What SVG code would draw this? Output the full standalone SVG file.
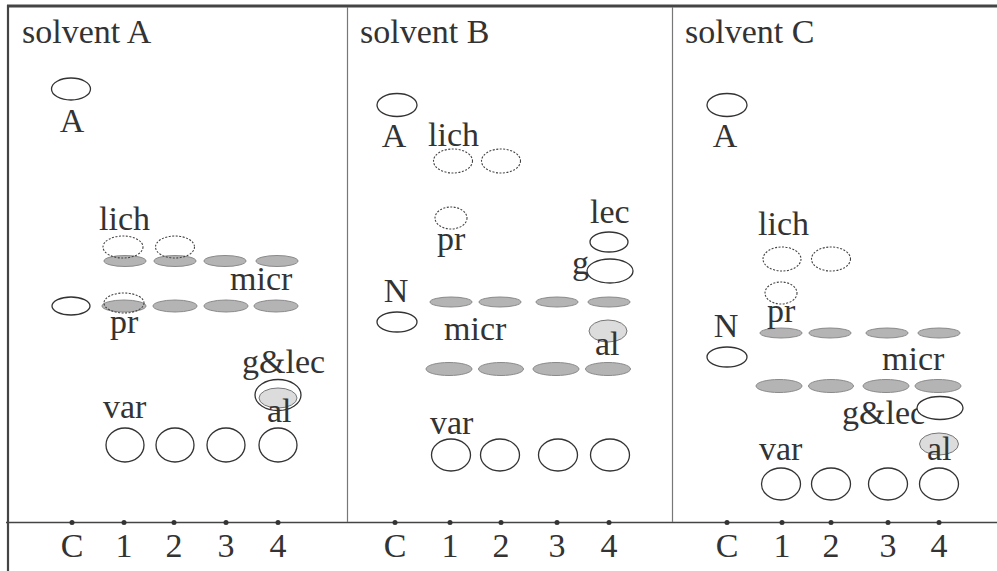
<svg xmlns="http://www.w3.org/2000/svg" width="997" height="571" viewBox="0 0 997 571">
<style>
text{font-family:"Liberation Serif","Times New Roman",serif;font-size:34px;fill:#333}
.m{text-anchor:middle}
.w{fill:#fff;stroke:#333;stroke-width:1.3}
.g{fill:#b4b4b4;stroke:#8a8a8a;stroke-width:1}
.l{fill:#dcdcdc;stroke:#777;stroke-width:1}
.d{fill:none;stroke:#444;stroke-width:1.1;stroke-dasharray:2 1.5}
.frame{stroke:#444;fill:none}
.dot{fill:#333}
</style>
<rect width="997" height="571" fill="#fff"/>
<g id="frame">
<line class="frame" x1="7" y1="6" x2="997" y2="6" stroke-width="3"/>
<line class="frame" x1="8" y1="5" x2="8" y2="571" stroke-width="2.2"/>
<line class="frame" x1="6" y1="522.5" x2="997" y2="522.5" stroke-width="1.6"/>
<line x1="347.5" y1="7" x2="347.5" y2="522" stroke="#777" stroke-width="1.2"/>
<line x1="672.5" y1="7" x2="672.5" y2="522" stroke="#777" stroke-width="1.2"/>
</g>
<g id="axis-ticks">
<circle class="dot" cx="72" cy="522.5" r="2.5"/><circle class="dot" cx="124" cy="522.5" r="2.5"/><circle class="dot" cx="174" cy="522.5" r="2.5"/><circle class="dot" cx="226" cy="522.5" r="2.5"/><circle class="dot" cx="278" cy="522.5" r="2.5"/>
<circle class="dot" cx="395" cy="522.5" r="2.5"/><circle class="dot" cx="450" cy="522.5" r="2.5"/><circle class="dot" cx="501" cy="522.5" r="2.5"/><circle class="dot" cx="557" cy="522.5" r="2.5"/><circle class="dot" cx="609" cy="522.5" r="2.5"/>
<circle class="dot" cx="727" cy="522.5" r="2.5"/><circle class="dot" cx="782" cy="522.5" r="2.5"/><circle class="dot" cx="831" cy="522.5" r="2.5"/><circle class="dot" cx="888" cy="522.5" r="2.5"/><circle class="dot" cx="939" cy="522.5" r="2.5"/>
<text class="m" x="72" y="557">C</text><text class="m" x="124" y="557">1</text><text class="m" x="174" y="557">2</text><text class="m" x="226" y="557">3</text><text class="m" x="278" y="557">4</text>
<text class="m" x="395" y="557">C</text><text class="m" x="450" y="557">1</text><text class="m" x="501" y="557">2</text><text class="m" x="557" y="557">3</text><text class="m" x="609" y="557">4</text>
<text class="m" x="727" y="557">C</text><text class="m" x="782" y="557">1</text><text class="m" x="831" y="557">2</text><text class="m" x="888" y="557">3</text><text class="m" x="939" y="557">4</text>
</g>
<g id="panel-A">
<text x="22" y="43">solvent A</text>
<ellipse class="w" cx="71" cy="89" rx="19.5" ry="11"/>
<text class="m" x="72" y="132">A</text>
<text x="99" y="230">lich</text>
<ellipse class="g" cx="125" cy="261" rx="21" ry="5.5"/><ellipse class="g" cx="175" cy="261" rx="21" ry="5.5"/><ellipse class="g" cx="225" cy="261" rx="21" ry="5.5"/><ellipse class="g" cx="277" cy="261" rx="21" ry="5.5"/>
<ellipse class="d" cx="123" cy="247" rx="20" ry="11"/><ellipse class="d" cx="175" cy="247" rx="19.5" ry="11"/>
<text x="230" y="290">micr</text>
<ellipse class="w" cx="71" cy="306" rx="19" ry="9"/>
<ellipse class="g" cx="124" cy="306" rx="22" ry="6"/><ellipse class="g" cx="175" cy="306" rx="22" ry="6"/><ellipse class="g" cx="226" cy="306" rx="22" ry="6"/><ellipse class="g" cx="276" cy="306" rx="22" ry="6"/>
<ellipse class="d" cx="124" cy="303" rx="20" ry="10"/>
<text x="110" y="333">pr</text>
<text x="242" y="373">g&amp;lec</text>
<ellipse class="w" cx="278" cy="395" rx="23" ry="15.5"/>
<ellipse class="l" cx="278" cy="398" rx="19" ry="10"/>
<text x="103" y="418">var</text>
<text x="267" y="422">al</text>
<ellipse class="w" cx="125" cy="445" rx="19" ry="17"/><ellipse class="w" cx="175" cy="445" rx="19" ry="17"/><ellipse class="w" cx="226" cy="445" rx="19" ry="17"/><ellipse class="w" cx="278" cy="445" rx="19" ry="17"/>
</g>
<g id="panel-B">
<text x="360" y="43">solvent B</text>
<ellipse class="w" cx="397" cy="105" rx="20" ry="11.5"/>
<text class="m" x="394" y="147">A</text>
<text x="428" y="146">lich</text>
<ellipse class="d" cx="453" cy="161" rx="19.5" ry="12"/><ellipse class="d" cx="501" cy="161" rx="19.5" ry="12"/>
<ellipse class="d" cx="451" cy="218" rx="16" ry="11"/>
<text x="437" y="250">pr</text>
<text x="590" y="223">lec</text>
<ellipse class="w" cx="609" cy="242" rx="19" ry="10"/>
<text x="572" y="274">g</text>
<ellipse class="w" cx="610" cy="271" rx="23" ry="12"/>
<text class="m" x="396" y="302">N</text>
<ellipse class="g" cx="451" cy="302" rx="21" ry="5"/><ellipse class="g" cx="500" cy="302" rx="21" ry="5"/><ellipse class="g" cx="557" cy="302" rx="21" ry="5"/><ellipse class="g" cx="609" cy="302" rx="21" ry="5"/>
<ellipse class="w" cx="397" cy="322" rx="20" ry="10"/>
<text x="444" y="340">micr</text>
<ellipse class="l" cx="608" cy="331" rx="19" ry="11"/>
<text x="595" y="355">al</text>
<ellipse class="g" cx="449" cy="369" rx="23" ry="6.5"/><ellipse class="g" cx="501" cy="369" rx="22.5" ry="6.5"/><ellipse class="g" cx="556" cy="369" rx="23" ry="6.5"/><ellipse class="g" cx="608" cy="369" rx="22.5" ry="6.5"/>
<text x="430" y="434">var</text>
<ellipse class="w" cx="451" cy="455" rx="19.5" ry="16"/><ellipse class="w" cx="500" cy="455" rx="19.5" ry="16"/><ellipse class="w" cx="558" cy="455" rx="19.5" ry="16"/><ellipse class="w" cx="610" cy="455" rx="19.5" ry="16"/>
</g>
<g id="panel-C">
<text x="685" y="43">solvent C</text>
<ellipse class="w" cx="727" cy="105" rx="20" ry="11.5"/>
<text class="m" x="725" y="147">A</text>
<text x="758" y="235">lich</text>
<ellipse class="d" cx="782" cy="259" rx="19" ry="12"/><ellipse class="d" cx="831" cy="259" rx="19.5" ry="12"/>
<ellipse class="d" cx="781" cy="293" rx="16" ry="11"/>
<ellipse class="g" cx="781" cy="333" rx="21" ry="5"/><ellipse class="g" cx="830" cy="333" rx="21" ry="5"/><ellipse class="g" cx="887" cy="333" rx="21" ry="5"/><ellipse class="g" cx="939" cy="333" rx="21" ry="5"/>
<text x="767" y="322">pr</text>
<text class="m" x="726" y="337">N</text>
<ellipse class="w" cx="727" cy="357" rx="20" ry="10"/>
<text x="882" y="370">micr</text>
<ellipse class="g" cx="779" cy="386" rx="23" ry="6.5"/><ellipse class="g" cx="831" cy="386" rx="22.5" ry="6.5"/><ellipse class="g" cx="886" cy="386" rx="23" ry="6.5"/><ellipse class="g" cx="938" cy="386" rx="23" ry="6.5"/>
<text x="842" y="424">g&amp;lec</text>
<ellipse class="w" cx="940" cy="408" rx="23" ry="11.5"/>
<ellipse class="l" cx="939" cy="444" rx="19.5" ry="11"/>
<text x="759" y="460">var</text>
<text x="927" y="460">al</text>
<ellipse class="w" cx="781" cy="484" rx="19.5" ry="16"/><ellipse class="w" cx="831" cy="484" rx="19.5" ry="16"/><ellipse class="w" cx="888" cy="484" rx="19.5" ry="16"/><ellipse class="w" cx="939" cy="484" rx="19.5" ry="16"/>
</g>
</svg>
